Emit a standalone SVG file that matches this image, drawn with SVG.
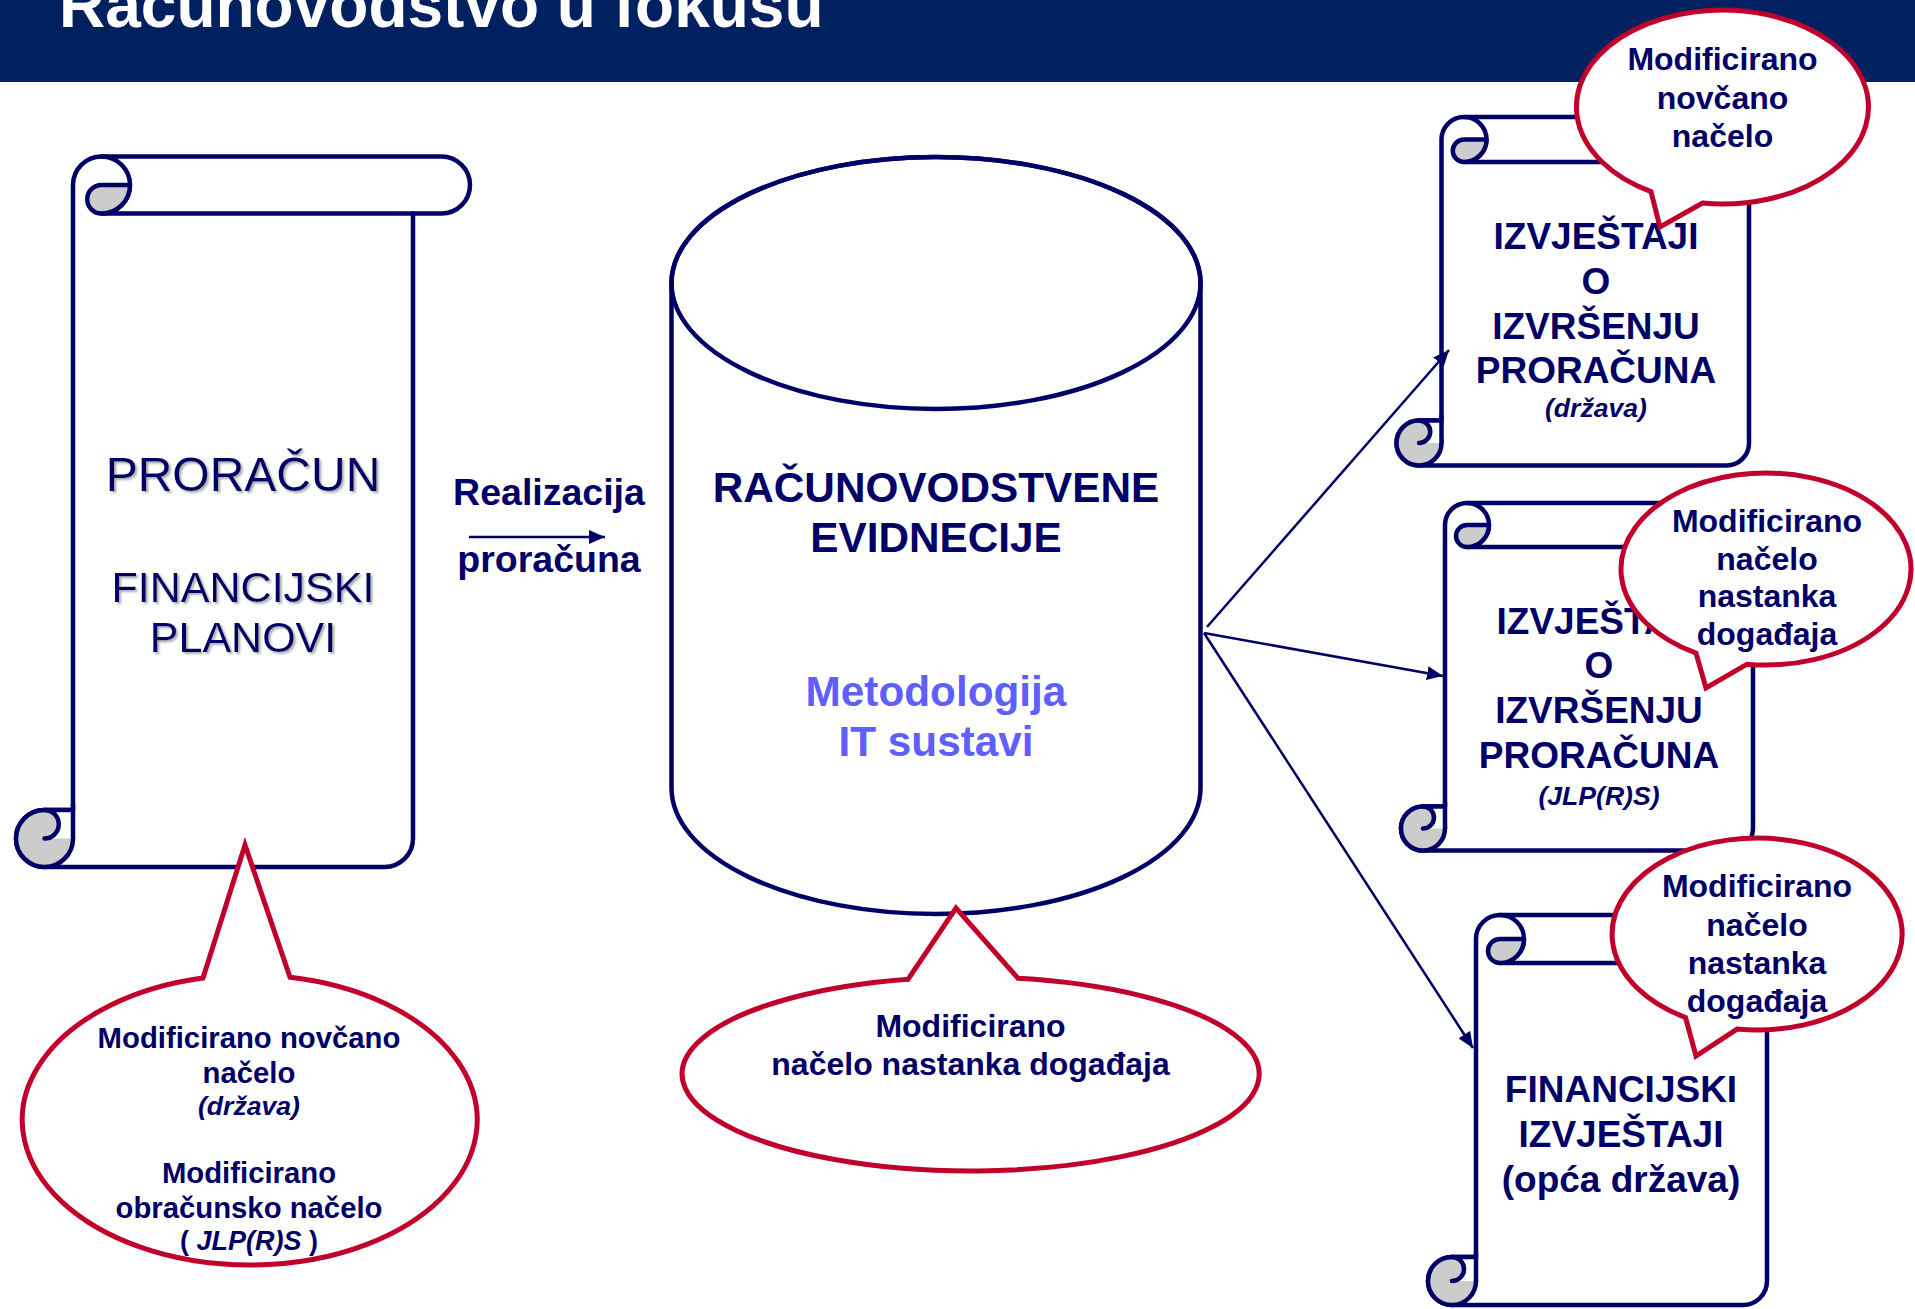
<svg xmlns="http://www.w3.org/2000/svg" width="1915" height="1309" viewBox="0 0 1915 1309">
<defs>
<style>
.ln{fill:none;stroke:#000066;stroke-width:4.5;stroke-linejoin:round;stroke-linecap:round}
.body{fill:#fff;stroke:#000066;stroke-width:4.5;stroke-linejoin:round}
.gray{fill:#cccccc;stroke:#000066;stroke-width:4.5;stroke-linejoin:round}
.notch{fill:#fff;stroke:none}
.call{fill:#fff;stroke:#c0002b;stroke-width:5;stroke-linejoin:miter}
.conn{fill:none;stroke:#000066;stroke-width:2.5}
text{font-family:"Liberation Sans",Arial,sans-serif;fill:#000066;text-anchor:middle}
.i{font-style:italic}
.t37{font-size:37px;font-weight:bold}
.t32{font-size:32px;font-weight:bold}
.t29{font-size:29.3px;font-weight:bold}
.t26{font-size:26.6px;font-weight:bold;font-style:italic}
</style>
<marker id="ah" markerUnits="userSpaceOnUse" markerWidth="16" markerHeight="14" refX="16" refY="7" orient="auto">
<path d="M0,0 L16,7 L0,14 Z" fill="#000066"/>
</marker>
<filter id="sh" x="-10%" y="-30%" width="120%" height="160%">
<feDropShadow dx="2" dy="2" stdDeviation="1" flood-color="#888" flood-opacity="0.7"/>
</filter>
</defs>

<rect x="0" y="0" width="1915" height="82" fill="#002060"/>
<text x="59" y="27" style="font-size:64px;font-weight:bold;fill:#fff;text-anchor:start">Računovodstvo u fokusu</text>

<!-- Left scroll -->
<g id="proracun">
<path class="body" d="M73 185 A28.5 28.5 0 0 1 101.5 156.5 H441.5 A28.5 28.5 0 0 1 441.5 213.5 H413 V838.5 A28.5 28.5 0 0 1 384.5 867 H44.5 A28.5 28.5 0 0 1 44.5 810 H73 Z"/>
<path class="ln" d="M413 213.5 H101.5 M101.5 156.5 A28.5 28.5 0 0 1 101.5 213.5"/>
<path class="gray" d="M101.5 185 H130 A28.5 28.5 0 0 1 101.5 213.5 A14.25 14.25 0 0 1 101.5 185 Z"/>
<circle class="gray" cx="44.5" cy="838.5" r="28.5"/>
<path class="notch" d="M44.5 810 H73 V838.5 H44.5 A14.25 14.25 0 0 0 44.5 810 Z"/>
<path class="ln" d="M44.5 810 H73 M44.5 838.5 A14.25 14.25 0 0 0 44.5 810 M73 805 V838.5"/>
<g filter="url(#sh)">
<text x="243" y="491" style="font-size:48px">PRORAČUN</text>
<text x="243" y="602" style="font-size:43px">FINANCIJSKI</text>
<text x="243" y="652" style="font-size:43px">PLANOVI</text>
</g>
</g>

<!-- Realizacija -->
<g id="realizacija">
<text x="549" y="505" style="font-size:37.5px;font-weight:bold">Realizacija</text>
<text x="549" y="572" style="font-size:37.5px;font-weight:bold">proračuna</text>
</g>

<!-- Cylinder -->
<g id="evidencije">
<path class="body" d="M671.5 283 V788 A264.5 126 0 0 0 1200.5 788 V283 A264.5 126 0 0 0 671.5 283 Z"/>
<ellipse cx="936" cy="283" rx="264.5" ry="126" class="ln"/>
<text x="936" y="502" style="font-size:42.3px;font-weight:bold">RAČUNOVODSTVENE</text>
<text x="936" y="552" style="font-size:42.3px;font-weight:bold">EVIDNECIJE</text>
<text x="936" y="706" style="font-size:42.3px;font-weight:bold;fill:#5f5fff">Metodologija</text>
<text x="936" y="756" style="font-size:42.3px;font-weight:bold;fill:#5f5fff">IT sustavi</text>
</g>

<!-- Scroll 2 -->
<g id="izvjestaji-drzava">
<path class="body" d="M1441.5 139.5 A22.5 22.5 0 0 1 1464 117 H1771.5 A22.5 22.5 0 0 1 1771.5 162 H1749 V443 A22.5 22.5 0 0 1 1726.5 465.5 H1419 A22.5 22.5 0 0 1 1419 420.5 H1441.5 Z"/>
<path class="ln" d="M1749 162 H1464 M1464 117 A22.5 22.5 0 0 1 1464 162"/>
<path class="gray" d="M1464 139.5 H1486.5 A22.5 22.5 0 0 1 1464 162 A11.25 11.25 0 0 1 1464 139.5 Z"/>
<circle class="gray" cx="1419" cy="443" r="22.5"/>
<path class="notch" d="M1419 420.5 H1441.5 V443 H1419 A11.25 11.25 0 0 0 1419 420.5 Z"/>
<path class="ln" d="M1419 420.5 H1441.5 M1419 443 A11.25 11.25 0 0 0 1419 420.5 M1441.5 416 V443"/>
<text x="1596" y="249" class="t37">IZVJEŠTAJI</text>
<text x="1596" y="294" class="t37">O</text>
<text x="1596" y="339" class="t37">IZVRŠENJU</text>
<text x="1596" y="383" class="t37">PRORAČUNA</text>
<text x="1596" y="417" class="t26">(država)</text>
</g>

<!-- Scroll 3 -->
<g id="izvjestaji-jlprs">
<path class="body" d="M1445 525 A22 22 0 0 1 1467 503 H1775 A22 22 0 0 1 1775 547 H1753 V828.5 A22 22 0 0 1 1731 850.5 H1423 A22 22 0 0 1 1423 806.5 H1445 Z"/>
<path class="ln" d="M1753 547 H1467 M1467 503 A22 22 0 0 1 1467 547"/>
<path class="gray" d="M1467 525 H1489 A22 22 0 0 1 1467 547 A11 11 0 0 1 1467 525 Z"/>
<circle class="gray" cx="1423" cy="828.5" r="22"/>
<path class="notch" d="M1423 806.5 H1445 V828.5 H1423 A11 11 0 0 0 1423 806.5 Z"/>
<path class="ln" d="M1423 806.5 H1445 M1423 828.5 A11 11 0 0 0 1423 806.5 M1445 802 V828.5"/>
<text x="1599" y="634" class="t37">IZVJEŠTAJI</text>
<text x="1599" y="678" class="t37">O</text>
<text x="1599" y="723" class="t37">IZVRŠENJU</text>
<text x="1599" y="768" class="t37">PRORAČUNA</text>
<text x="1599" y="805" class="t26">(JLP(R)S)</text>
</g>

<!-- Scroll 4 -->
<g id="financijski-izvjestaji">
<path class="body" d="M1476 939 A24 24 0 0 1 1500 915 H1791 A24 24 0 0 1 1791 963 H1767 V1281 A24 24 0 0 1 1743 1305 H1452 A24 24 0 0 1 1452 1257 H1476 Z"/>
<path class="ln" d="M1767 963 H1500 M1500 915 A24 24 0 0 1 1500 963"/>
<path class="gray" d="M1500 939 H1524 A24 24 0 0 1 1500 963 A12 12 0 0 1 1500 939 Z"/>
<circle class="gray" cx="1452" cy="1281" r="24"/>
<path class="notch" d="M1452 1257 H1476 V1281 H1452 A12 12 0 0 0 1452 1257 Z"/>
<path class="ln" d="M1452 1257 H1476 M1452 1281 A12 12 0 0 0 1452 1257 M1476 1252 V1281"/>
<text x="1621" y="1102" class="t37">FINANCIJSKI</text>
<text x="1621" y="1147" class="t37">IZVJEŠTAJI</text>
<text x="1621" y="1192" class="t37">(opća država)</text>
</g>

<!-- Connectors -->
<g id="connectors">
<line class="conn" x1="469" y1="537" x2="605" y2="537" marker-end="url(#ah)"/>
<line class="conn" x1="1207" y1="627" x2="1449" y2="350" marker-end="url(#ah)"/>
<line class="conn" x1="1204" y1="633" x2="1443" y2="676" marker-end="url(#ah)"/>
<line class="conn" x1="1204" y1="633" x2="1473" y2="1048" marker-end="url(#ah)"/>
</g>

<!-- Callouts -->
<g id="callout-novcano">
<path class="call" d="M1651 191.6 L1660 227 L1702.5 203.1 A146 97 0 1 0 1651 191.6 Z"/>
<text x="1722.5" y="70" class="t32">Modificirano</text>
<text x="1722.5" y="108.5" class="t32">novčano</text>
<text x="1722.5" y="147" class="t32">načelo</text>
</g>
<g id="callout-nastanka-1">
<path class="call" d="M1696 653.1 L1706 688 L1747 664.2 A145 96 0 1 0 1696 653.1 Z"/>
<text x="1767" y="532" class="t32">Modificirano</text>
<text x="1767" y="569.5" class="t32">načelo</text>
<text x="1767" y="607" class="t32">nastanka</text>
<text x="1767" y="645" class="t32">događaja</text>
</g>
<g id="callout-nastanka-2">
<path class="call" d="M1685.5 1017.5 L1696 1056 L1737 1029.1 A145 96 0 1 0 1685.5 1017.5 Z"/>
<text x="1757" y="897" class="t32">Modificirano</text>
<text x="1757" y="936" class="t32">načelo</text>
<text x="1757" y="974" class="t32">nastanka</text>
<text x="1757" y="1012" class="t32">događaja</text>
</g>
<g id="callout-evidencije">
<path class="call" d="M908 979.3 L956 908 L1018 978.3 A288.5 97 0 1 1 908 979.3 Z"/>
<text x="970.5" y="1037" class="t32">Modificirano</text>
<text x="970.5" y="1075" class="t32">načelo nastanka događaja</text>
</g>
<g id="callout-proracun">
<path class="call" d="M203 978.1 L245 845 L290 977.3 A227.5 145 0 1 1 203 978.1 Z"/>
<text x="249" y="1048" class="t29">Modificirano novčano</text>
<text x="249" y="1083" class="t29">načelo</text>
<text x="249" y="1115" class="t26">(država)</text>
<text x="249" y="1183" class="t29">Modificirano</text>
<text x="249" y="1218" class="t29">obračunsko načelo</text>
<text x="249" y="1250" style="font-size:27px;font-weight:bold">( <tspan class="i">JLP(R)S</tspan> )</text>
</g>
</svg>
